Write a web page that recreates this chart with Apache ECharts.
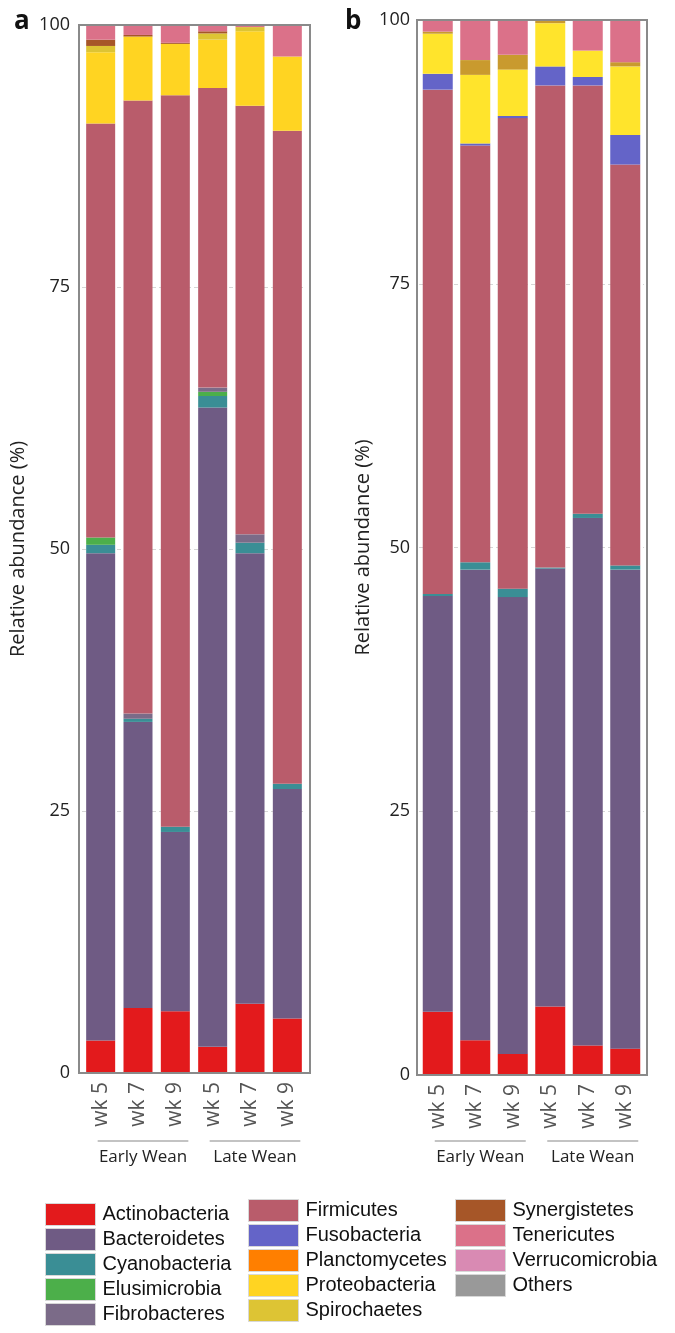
<!DOCTYPE html>
<html>
<head>
<meta charset="utf-8">
<script src="https://cdn.jsdelivr.net/npm/echarts@6/dist/echarts.min.js"></script>
<style>
html,body{margin:0;padding:0;background:#fff;}
#chart{width:675px;height:1333px;}
</style>
</head>
<body>
<div id="chart"></div>
<script>
// ---------- DATA ----------
const weeks = ['wk 5', 'wk 7', 'wk 9', 'wk 5', 'wk 7', 'wk 9'];
const groups = ['Early Wean', 'Late Wean'];
const yTicks = [0, 25, 50, 75, 100];
const phyla = ['Actinobacteria', 'Bacteroidetes', 'Cyanobacteria', 'Elusimicrobia', 'Fibrobacteres',
  'Firmicutes', 'Fusobacteria', 'Planctomycetes', 'Proteobacteria', 'Spirochaetes',
  'Synergistetes', 'Tenericutes', 'Verrucomicrobia', 'Others'];

// Panel a (values in %, one per bar: Early wk5, wk7, wk9, Late wk5, wk7, wk9)
const aActinobacteria  = [3.1, 6.2, 5.9, 2.5, 6.6, 5.2];
const aBacteroidetes   = [46.5, 27.3, 17.1, 61.0, 43.0, 21.9];
const aCyanobacteria   = [0.8, 0.3, 0.5, 1.1, 1.0, 0.5];
const aElusimicrobia   = [0.7, 0, 0, 0.4, 0, 0];
const aFibrobacteres   = [0, 0.5, 0, 0.4, 0.8, 0];
const aFirmicutes      = [39.5, 58.5, 69.8, 28.6, 40.9, 62.3];
const aFusobacteria    = [0, 0, 0, 0, 0, 0];
const aPlanctomycetes  = [0, 0, 0, 0, 0, 0];
const aProteobacteria  = [6.8, 6.1, 4.9, 4.6, 7.1, 7.1];
const aSpirochaetes    = [0.6, 0, 0, 0.6, 0.4, 0];
const aSynergistetes   = [0.6, 0.15, 0.1, 0.2, 0, 0];
const aTenericutes     = [1.4, 0.95, 1.7, 0.6, 0.2, 3.0];
const aVerrucomicrobia = [0, 0, 0, 0, 0, 0];
const aOthers          = [0, 0, 0, 0, 0, 0];

// Panel b
const bActinobacteria  = [6.0, 3.3, 2.0, 6.5, 2.8, 2.5];
const bBacteroidetes   = [39.4, 44.6, 43.3, 41.5, 50.0, 45.4];
const bCyanobacteria   = [0.2, 0.7, 0.8, 0.1, 0.4, 0.4];
const bElusimicrobia   = [0, 0, 0, 0, 0, 0];
const bFibrobacteres   = [0, 0, 0, 0, 0, 0];
const bFirmicutes      = [47.8, 39.5, 44.6, 45.7, 40.6, 38.0];
const bFusobacteria    = [1.5, 0.2, 0.2, 1.8, 0.8, 2.8];
const bPlanctomycetes  = [0, 0, 0, 0, 0, 0];
const bProteobacteria  = [3.8, 6.5, 4.4, 4.1, 2.5, 6.5];
const bSpirochaetes    = [0.2, 1.4, 1.4, 0.3, 0, 0.4];
const bSynergistetes   = [0, 0, 0, 0, 0, 0];
const bTenericutes     = [1.1, 3.8, 3.3, 0, 2.9, 4.0];
const bVerrucomicrobia = [0, 0, 0, 0, 0, 0];
const bOthers          = [0, 0, 0, 0, 0, 0];

const panelA = [aActinobacteria, aBacteroidetes, aCyanobacteria, aElusimicrobia, aFibrobacteres,
  aFirmicutes, aFusobacteria, aPlanctomycetes, aProteobacteria, aSpirochaetes,
  aSynergistetes, aTenericutes, aVerrucomicrobia, aOthers];
const panelB = [bActinobacteria, bBacteroidetes, bCyanobacteria, bElusimicrobia, bFibrobacteres,
  bFirmicutes, bFusobacteria, bPlanctomycetes, bProteobacteria, bSpirochaetes,
  bSynergistetes, bTenericutes, bVerrucomicrobia, bOthers];

// ---------- STYLE ----------
const colorsA = ['#E31A1C', '#6F5B84', '#3A8E95', '#4CAF4A', '#7B6B88',
  '#B95C6B', '#6464C8', '#FF7F00', '#FFD422', '#DDC434',
  '#A65628', '#DB7189', '#D98AB3', '#999999'];
const colorsB = colorsA.slice();
colorsB[8] = '#FFE42C';
colorsB[9] = '#C99A2E';

const FONT = 'Open Sans';
const chart = echarts.init(document.getElementById('chart'), null, {renderer: 'canvas'});

const grids = [
  {left: 82, top: 25, width: 224, height: 1048},
  {left: 419, top: 20, width: 225, height: 1055}
];

function yAxis(gi, gap) {
  return {
    type: 'value', gridIndex: gi, min: 0, max: 100, interval: 25,
    name: 'Relative abundance (%)', nameLocation: 'middle', nameGap: gap, nameRotate: 90,
    nameTextStyle: {fontSize: 20, color: '#222', fontFamily: FONT},
    axisLine: {show: false}, axisTick: {show: false},
    axisLabel: {fontSize: 18, color: '#222', fontFamily: FONT, margin: gi === 0 ? 12 : 9,
      formatter: v => (yTicks.indexOf(v) >= 0 ? String(v) : '')},
    splitLine: {show: true, lineStyle: {color: '#d6d6d6', type: [4, 3], width: 1}}
  };
}
function xAxis(gi) {
  return {
    type: 'category', gridIndex: gi, data: weeks,
    axisLine: {show: false}, axisTick: {show: false},
    axisLabel: {rotate: 90, fontSize: 21, color: '#555', fontFamily: FONT, margin: 9, interval: 0}
  };
}

const series = [];
[panelA, panelB].forEach((panel, gi) => {
  const cols = gi === 0 ? colorsA : colorsB;
  panel.forEach((vals, k) => {
    series.push({
      type: 'bar', name: phyla[k], xAxisIndex: gi, yAxisIndex: gi,
      stack: 'panel' + gi, data: vals,
      barWidth: gi === 0 ? 29 : 30,
      itemStyle: {color: cols[k]},
      emphasis: {disabled: true}
    });
  });
});

const legendStyle = {
  orient: 'vertical', itemWidth: 50, itemHeight: 22, itemGap: 2, icon: 'rect',
  selectedMode: false, padding: 0, height: 128,
  itemStyle: {borderColor: '#d8d8d8', borderWidth: 1},
  textStyle: {fontSize: 20, color: '#111', fontFamily: 'Liberation Sans', lineHeight: 22, padding: [0, 0, 0, 2]}
};

const option = {
  animation: false,
  backgroundColor: '#fff',
  grid: grids,
  xAxis: [xAxis(0), xAxis(1)],
  yAxis: [yAxis(0, 54), yAxis(1, 46)],
  title: [
    {text: 'a', left: 9, top: 4, textStyle: {fontSize: 26, fontWeight: 'bold', color: '#111', fontFamily: FONT}},
    {text: 'b', left: 340, top: 4, textStyle: {fontSize: 26, fontWeight: 'bold', color: '#111', fontFamily: FONT}}
  ],
  legend: [
    Object.assign({left: 45, top: 1203, data: phyla.slice(0, 5)}, legendStyle),
    Object.assign({left: 248, top: 1199, data: phyla.slice(5, 10)}, legendStyle),
    Object.assign({left: 455, top: 1199, data: phyla.slice(10, 14)}, legendStyle)
  ],
  series: series
};
chart.setOption(option);

// Frames and group annotations, positioned from the axes
const graphics = [];
[[79, 25, 231, 1048], [417, 20, 230, 1055]].forEach(r => {
  graphics.push({type: 'rect', shape: {x: r[0], y: r[1], width: r[2], height: r[3]},
    style: {fill: null, stroke: '#8a8a8a', lineWidth: 2}, z: 100});
});
[0, 1].forEach(gi => {
  groups.forEach((g, j) => {
    const first = chart.convertToPixel({xAxisIndex: gi}, j * 3);
    const last = chart.convertToPixel({xAxisIndex: gi}, j * 3 + 2);
    const x1 = first - 3, x2 = last + 13;
    const ly = 1141;
    graphics.push({type: 'line', shape: {x1: x1, y1: ly, x2: x2, y2: ly},
      style: {stroke: '#888', lineWidth: 1.2}, z: 100});
    graphics.push({type: 'text', x: (x1 + x2) / 2, y: ly + 16,
      style: {text: g, font: '17px "Open Sans"', fill: '#222', textAlign: 'center', textVerticalAlign: 'middle'}, z: 100});
  });
});
chart.setOption({graphic: graphics});
</script>
</body>
</html>
